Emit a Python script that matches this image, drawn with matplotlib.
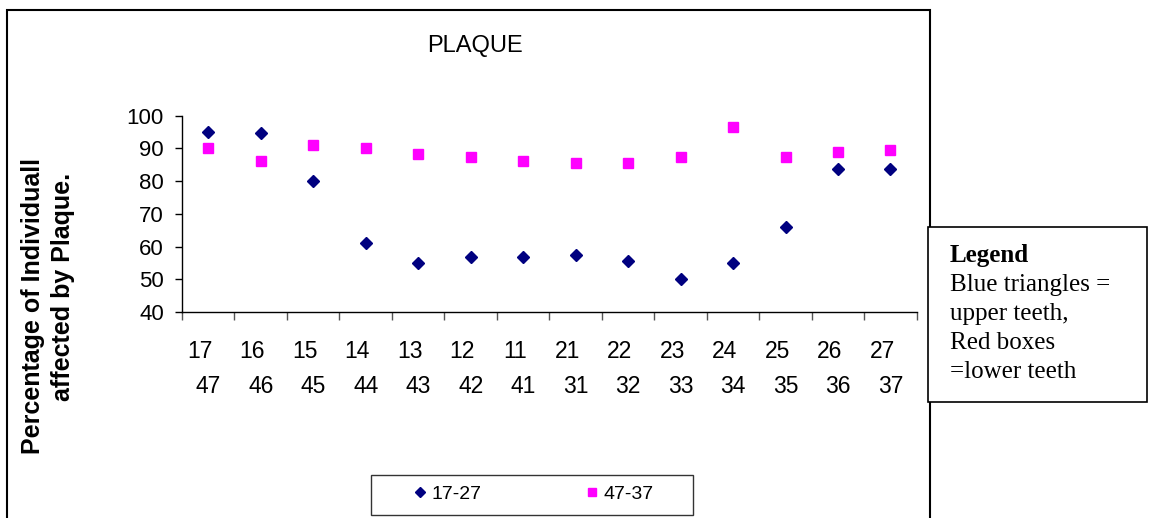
import matplotlib
matplotlib.use("Agg")
import matplotlib.pyplot as plt
from matplotlib.patches import Rectangle
from matplotlib.lines import Line2D

plt.rcParams["font.family"] = ["Liberation Sans", "DejaVu Sans"]

# Tooth pairs (upper / lower) along the x axis
upper_teeth = ["17", "16", "15", "14", "13", "12", "11", "21", "22", "23", "24", "25", "26", "27"]
lower_teeth = ["47", "46", "45", "44", "43", "42", "41", "31", "32", "33", "34", "35", "36", "37"]

# Percentage of individuals affected by plaque
upper_pct = [95.1, 94.6, 80.0, 61.0, 55.1, 56.7, 56.7, 57.3, 55.7, 50.2, 55.1, 66.0, 83.7, 83.7]
lower_pct = [90.0, 86.2, 91.1, 90.0, 88.4, 87.3, 86.2, 85.6, 85.6, 87.3, 96.4, 87.3, 88.9, 89.4]

series_names = ["17-27", "47-37"]
y_ticks = [40, 50, 60, 70, 80, 90, 100]

W, H = 1149, 518
fig = plt.figure(figsize=(W / 100, H / 100), dpi=100)

def fx(px):
    return px / W

def fy(py):
    return 1 - py / H

# Outer chart frame
fig.patches.append(Rectangle((fx(7), fy(530)), fx(930) - fx(7), fy(10) - fy(530),
                             transform=fig.transFigure, fill=False,
                             edgecolor="black", linewidth=1.5, zorder=0))

ax = fig.add_axes([fx(182), fy(312), fx(916.7) - fx(182), fy(115.7) - fy(312)])
ax.set_facecolor("none")

x = list(range(1, len(upper_teeth) + 1))
ax.plot(x, upper_pct, linestyle="none", marker="D", markersize=6.6,
        color="#000080", label=series_names[0], clip_on=False)
ax.plot(x, lower_pct, linestyle="none", marker="s", markersize=7.0,
        color="#FF00FF", label=series_names[1], clip_on=False)

ax.set_xlim(0.5, len(x) + 0.5)
ax.set_ylim(40, 100)
ax.set_yticks(y_ticks)
ax.set_xticks([i + 0.5 for i in range(0, len(x) + 1)])
ax.set_xticklabels([])
ax.tick_params(axis="y", direction="out", length=5, width=1, pad=8,
               labelsize=16, colors="black")
ax.tick_params(axis="x", direction="out", length=6, width=1, colors="#555555")

for s in ["top", "right"]:
    ax.spines[s].set_visible(False)
for s in ["left", "bottom"]:
    ax.spines[s].set_color("black")
    ax.spines[s].set_linewidth(1)

# Two-row category labels below the axis
xt = ax.get_xaxis_transform()
for xi, up, lo in zip(x, upper_teeth, lower_teeth):
    ax.text(xi - 0.16, -0.202, up, transform=xt, ha="center", va="center", fontsize=16.5)
    ax.text(xi, -0.377, lo, transform=xt, ha="center", va="center", fontsize=16.5)

# Title
fig.text(fx(475), fy(46), "PLAQUE", ha="center", va="center", fontsize=17)

# Y axis label in two lines
fig.text(fx(33), fy(306), "Percentage of Individuall", rotation=90,
         ha="center", va="center", fontsize=18, fontweight="bold")
fig.text(fx(63), fy(287), "affected by Plaque.", rotation=90,
         ha="center", va="center", fontsize=18, fontweight="bold")

# Series legend below the chart
fig.patches.append(Rectangle((fx(371), fy(515)), fx(693) - fx(371), fy(475) - fy(515),
                             transform=fig.transFigure, fill=True, facecolor="white",
                             edgecolor="#333333", linewidth=1, zorder=1))
handles = [Line2D([], [], linestyle="none", marker="D", markersize=5, color="#000080"),
           Line2D([], [], linestyle="none", marker="s", markersize=5.5, color="#FF00FF")]
fig.legend(handles, series_names, loc="center", bbox_to_anchor=(fx(534), fy(494)),
           ncol=2, frameon=False, fontsize=14, handlelength=0.6,
           handletextpad=0.3, columnspacing=5.4)

# Explanatory box on the right
fig.patches.append(Rectangle((fx(928), fy(402)), fx(1147) - fx(928), fy(227) - fy(402),
                             transform=fig.transFigure, fill=True, facecolor="white",
                             edgecolor="black", linewidth=1.2, zorder=2))
box_lines = [("Legend", "bold"), ("Blue triangles =", "normal"), ("upper teeth,", "normal"),
             ("Red boxes", "normal"), ("=lower teeth", "normal")]
for i, (txt, wt) in enumerate(box_lines):
    fig.text(fx(950), fy(262 + i * 29), txt, ha="left", va="baseline",
             fontsize=18, fontweight=wt, family=["Liberation Serif", "DejaVu Serif"],
             zorder=3)

fig.savefig("out.png", dpi=100)
